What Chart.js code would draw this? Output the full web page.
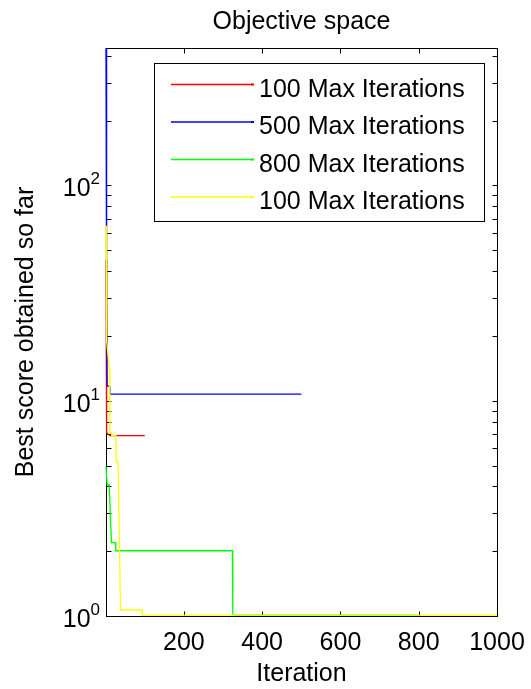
<!DOCTYPE html>
<html>
<head>
<meta charset="utf-8">
<title>Objective space</title>
<script src="https://cdn.jsdelivr.net/npm/chart.js@4"></script>
<style>
  html, body { margin: 0; padding: 0; background: #fff; }
  #wrap { width: 531px; height: 689px; }
</style>
</head>
<body>
<div id="wrap"><canvas id="objChart" width="531" height="689"></canvas></div>
<script>
// convergence curves: iteration where each best score is reached (line vertices)
const redIter     = [1, 2, 3, 11, 100];
const redScore    = [45, 12, 7.1, 6.88, 6.88];
const blueIter    = [1, 2, 3, 4, 11, 12, 500];
const blueScore   = [435, 100, 30, 11.7, 11.7, 10.74, 10.74];
const greenIter   = [1, 3, 4, 9, 15, 25, 26, 324, 325, 800];
const greenScore  = [4.93, 4.93, 4.07, 4.07, 2.19, 2.19, 2.01, 2.01, 1.01, 1.01];
const yellowIter  = [1, 2, 3, 10, 11, 15, 16, 26, 27, 32, 38, 93, 94, 1000];
const yellowScore = [65, 40, 19, 14, 7.1, 7.1, 6.88, 6.88, 5.22, 5.22, 1.066, 1.066, 1.01, 1.01];

const seriesLabels = ['100 Max Iterations', '500 Max Iterations', '800 Max Iterations', '100 Max Iterations'];
const seriesColors = ['#ff0000', '#0000ff', '#00ff00', '#ffff00'];

const xTicks = [200, 400, 600, 800, 1000];
const yMajor = [1, 10, 100];
const yExponents = ['0', '1', '2'];
const xMin = 1, xMax = 1000;
const yMin = 1, yMax = 435;

const FONT = '"Liberation Sans", Arial, Helvetica, sans-serif';
const TICK = 5;

// minor log ticks 2..9 in each decade
const yMinor = [];
yMajor.forEach(d => {
  for (let m = 2; m <= 9; m++) if (m * d < yMax) yMinor.push(m * d);
});

function pts(xs, ys) {
  return xs.map((v, i) => ({ x: v, y: ys[i] }));
}

const curves = [
  pts(redIter, redScore),
  pts(blueIter, blueScore),
  pts(greenIter, greenScore),
  pts(yellowIter, yellowScore)
];

// axes box, inward ticks, 10^n labels and the boxed legend
const frame = {
  id: 'frame',
  beforeDatasetsDraw(chart) {
    const { ctx, chartArea: a, scales: { x, y } } = chart;
    const L = Math.round(a.left) + 0.5, R = Math.round(a.right) + 0.5;
    const T = Math.round(a.top) + 0.5, B = Math.round(a.bottom) + 0.5;
    ctx.save();
    ctx.strokeStyle = '#000';
    ctx.lineWidth = 1;
    ctx.strokeRect(L, T, R - L, B - T);
    ctx.beginPath();
    x.ticks.forEach(t => {
      const px = Math.round(x.getPixelForValue(t.value)) + 0.5;
      ctx.moveTo(px, B); ctx.lineTo(px, B - TICK);
      ctx.moveTo(px, T); ctx.lineTo(px, T + TICK);
    });
    y.ticks.forEach(t => {
      const py = Math.round(y.getPixelForValue(t.value)) + 0.5;
      ctx.moveTo(L, py); ctx.lineTo(L + TICK, py);
      ctx.moveTo(R, py); ctx.lineTo(R - TICK, py);
    });
    ctx.stroke();
    ctx.restore();
  },
  afterDatasetsDraw(chart) {
    const { ctx, chartArea: a, scales: { y } } = chart;
    ctx.save();
    ctx.fillStyle = '#000';
    ctx.textBaseline = 'alphabetic';
    ctx.textAlign = 'left';
    yMajor.forEach((v, i) => {
      const py = y.getPixelForValue(v);
      ctx.font = '17px ' + FONT;
      const we = ctx.measureText(yExponents[i]).width;
      ctx.font = '25px ' + FONT;
      const wb = ctx.measureText('10').width;
      const right = a.left - 6;
      ctx.fillText('10', right - we - wb, py + 11);
      ctx.font = '17px ' + FONT;
      ctx.fillText(yExponents[i], right - we, py - 1);
    });

    // legend
    const box = { left: 154.5, top: 63.5, right: 484.5, bottom: 221.5 };
    ctx.fillStyle = '#fff';
    ctx.fillRect(box.left, box.top, box.right - box.left, box.bottom - box.top);
    ctx.strokeStyle = '#000';
    ctx.lineWidth = 1;
    ctx.strokeRect(box.left, box.top, box.right - box.left, box.bottom - box.top);
    ctx.font = '25px ' + FONT;
    chart.data.datasets.forEach((ds, i) => {
      const ry = 84.5 + i * 37.5;
      ctx.strokeStyle = ds.borderColor;
      ctx.lineWidth = 1.4;
      ctx.beginPath();
      ctx.moveTo(171, ry); ctx.lineTo(253, ry);
      ctx.stroke();
      ctx.fillStyle = ds.borderColor;
      ctx.fillRect(251, ry - 1, 3, 2);
      ctx.fillStyle = '#000';
      ctx.fillText(ds.label, 259, ry + 12);
    });
    ctx.restore();
  }
};

new Chart(document.getElementById('objChart'), {
  type: 'line',
  data: {
    datasets: curves.map((c, i) => ({
      label: seriesLabels[i],
      data: c,
      borderColor: seriesColors[i],
      backgroundColor: seriesColors[i],
      borderWidth: 1.3,
      pointRadius: 0,
      tension: 0,
      fill: false,
      clip: 2,
      order: 3 - i
    }))
  },
  options: {
    responsive: false,
    animation: false,
    devicePixelRatio: 1,
    layout: { padding: { left: 0, right: 34, top: 0, bottom: 0 } },
    plugins: {
      legend: { display: false },
      tooltip: { enabled: false },
      title: {
        display: true,
        text: 'Objective space',
        fullSize: false,
        color: '#000',
        font: { family: FONT, size: 25, weight: 'normal' },
        padding: { top: 7, bottom: 11 }
      }
    },
    scales: {
      x: {
        type: 'linear',
        position: 'bottom',
        min: xMin,
        max: xMax,
        grid: { display: false, drawTicks: false },
        border: { display: false },
        afterBuildTicks: s => { s.ticks = xTicks.map(v => ({ value: v })); },
        afterFit: s => { s.height = 73; s.paddingLeft = 0; s.paddingRight = 0; },
        ticks: {
          autoSkip: false,
          maxRotation: 0,
          padding: 12,
          color: '#000',
          font: { family: FONT, size: 25 },
          callback: v => String(v)
        },
        title: {
          display: true,
          text: 'Iteration',
          color: '#000',
          font: { family: FONT, size: 25 },
          padding: { top: 0, bottom: 0 }
        }
      },
      y: {
        type: 'logarithmic',
        position: 'left',
        min: yMin,
        max: yMax,
        grid: { display: false, drawTicks: false },
        border: { display: false },
        afterBuildTicks: s => {
          s.ticks = yMajor.concat(yMinor).map(v => ({ value: v }));
        },
        afterFit: s => { s.width = 106; s.paddingTop = 0; s.paddingBottom = 0; },
        ticks: { display: false },
        title: {
          display: true,
          text: 'Best score obtained so far',
          color: '#000',
          font: { family: FONT, size: 25 },
          padding: { top: 11, bottom: 0 }
        }
      }
    }
  },
  plugins: [frame]
});
</script>
</body>
</html>
